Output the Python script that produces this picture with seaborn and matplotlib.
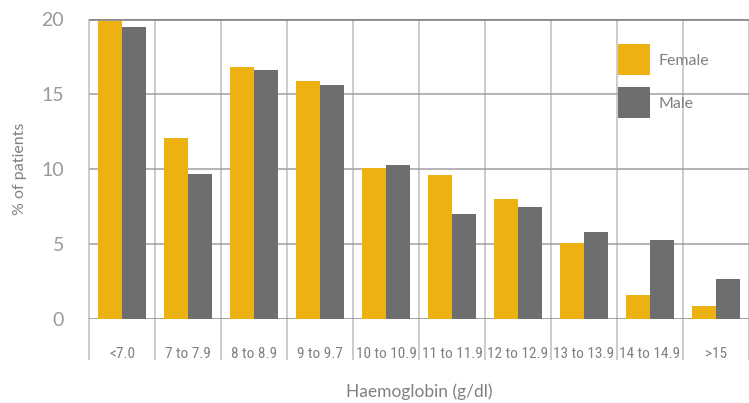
import matplotlib
matplotlib.use("Agg")
import matplotlib.pyplot as plt
from matplotlib import font_manager
import pandas as pd
import seaborn as sns

categories = ["<7.0", "7 to 7.9", "8 to 8.9", "9 to 9.7", "10 to 10.9",
              "11 to 11.9", "12 to 12.9", "13 to 13.9", "14 to 14.9", ">15"]
female = [19.9, 12.1, 16.8, 15.9, 10.1, 9.6, 8.0, 5.1, 1.6, 0.9]
male = [19.5, 9.7, 16.6, 15.6, 10.3, 7.0, 7.5, 5.8, 5.3, 2.7]
y_ticks = [0, 5, 10, 15, 20]

df = pd.DataFrame({
    "band": categories * 2,
    "pct": female + male,
    "sex": ["Female"] * len(categories) + ["Male"] * len(categories),
})

sns.set_style("white")
plt.rcParams["font.family"] = ["Lato", "DejaVu Sans"]
text_col = "#808080"

# narrow face for the category labels, if there is one
names = {f.name for f in font_manager.fontManager.ttflist}
narrow, narrow_size = "Roboto", 9.5
for cand in ["Roboto Condensed", "Liberation Sans Narrow", "DejaVu Sans Condensed"]:
    if cand in names:
        narrow, narrow_size = cand, 11
        break

fig = plt.figure(figsize=(7.49, 4.03), dpi=100)
ax = fig.add_axes([89 / 749, 84 / 403, 660 / 749, 300 / 403])

sns.barplot(data=df, x="band", y="pct", hue="sex", order=categories,
            palette={"Female": "#EDB112", "Male": "#6D6E70"},
            width=0.72, saturation=1, linewidth=0, ax=ax, zorder=3)

ax.set_ylim(0, 20)
ax.set_xlim(-0.5, len(categories) - 0.5)
ax.set_yticks(y_ticks)
for y in y_ticks:
    ax.axhline(y, color="#8a8a8a" if y in (0, 20) else "#a0a0a0",
               lw=2 if y == 20 else 1.1, zorder=4 if y == 20 else 1)
ax.vlines([i - 0.5 for i in range(len(categories) + 1)], -2.75, 20,
          color="#c4c4c4", lw=1.2, clip_on=False, zorder=0)

for s in ax.spines.values():
    s.set_visible(False)

ax.tick_params(axis="y", length=15, width=1.1, color="#8a8a8a", pad=3,
               labelsize=14, labelcolor="#999999")
ax.tick_params(axis="x", length=0, pad=20, labelcolor=text_col)
for lab in ax.get_xticklabels():
    lab.set_fontfamily(narrow)
    lab.set_fontsize(narrow_size)

ax.set_xlabel("Haemoglobin (g/dl)", fontsize=12.5, color=text_col)
ax.xaxis.set_label_coords(0.5, -(392 - 319) / 300)
ax.xaxis.label.set_va("center")
ax.set_ylabel("% of patients", fontsize=11.5, color=text_col)
ax.yaxis.set_label_coords(-(89 - 20) / 660, 0.5)
ax.yaxis.label.set_va("center")

leg = ax.legend(loc="upper left", bbox_to_anchor=(604 / 749, 1 - 30 / 403),
                bbox_transform=fig.transFigure, frameon=False, fontsize=11.5,
                handlelength=2.0, handleheight=2.6, labelspacing=0.75,
                handletextpad=0.5)
for t in leg.get_texts():
    t.set_color(text_col)

fig.savefig("out.png", dpi=100)
